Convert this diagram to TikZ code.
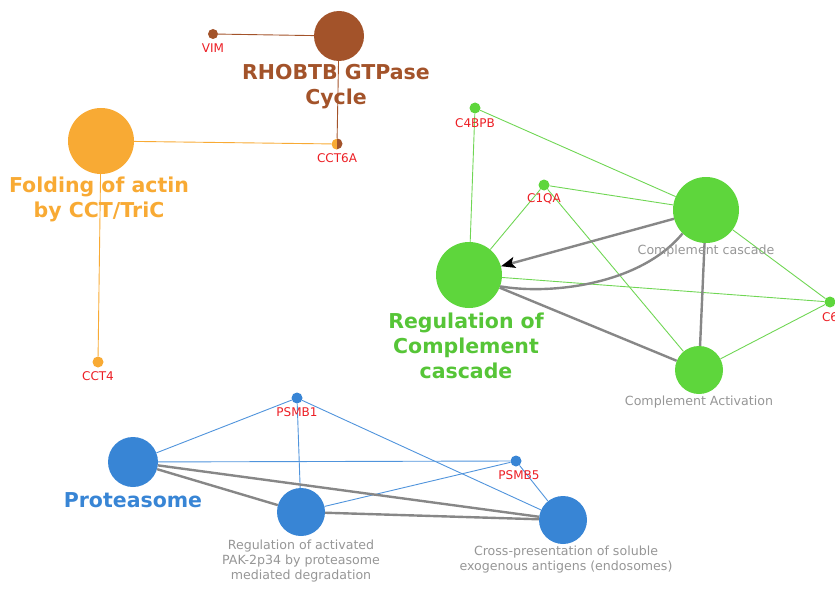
\documentclass[tikz,border=0pt]{standalone}
\usepackage{fontspec}
\setmainfont{DejaVu Sans}
\usetikzlibrary{arrows.meta}
\definecolor{brn}{RGB}{163,83,42}
\definecolor{org}{RGB}{248,170,52}
\definecolor{grn}{RGB}{94,214,60}
\definecolor{grnline}{RGB}{112,214,84}
\definecolor{blu}{RGB}{56,133,213}
\definecolor{bluline}{RGB}{80,148,220}
\definecolor{genered}{RGB}{236,30,36}
\definecolor{edgegray}{RGB}{135,135,135}
\definecolor{labelgray}{RGB}{150,150,150}
\tikzset{
  hub/.style={circle, inner sep=0pt, minimum size=#1},
  gene/.style={circle, inner sep=0pt, minimum size=11pt},
  genelabel/.style={text=genered, font=\fontsize{12}{13}\selectfont},
  pathlabel/.style={text=labelgray, align=center, font=\fontsize{12.6}{15}\selectfont},
  title/.style={align=center, font=\bfseries\fontsize{20.5}{25}\selectfont},
  thin edge/.style={line width=0.9pt},
  heavy edge/.style={draw=edgegray, line width=2.4pt},
}
\begin{document}
\begin{tikzpicture}[x=1pt,y=-1pt]
\useasboundingbox (0,0) rectangle (835,591);

% ---- RHOBTB GTPase Cycle / Folding of actin ----
\node[hub=50pt, fill=brn] (rho) at (339,36) {};
\node[gene, fill=brn, minimum size=10pt] (vim) at (213,34) {};
\node[genelabel] (vimL) at (213,48) {VIM};
\node[title, text=brn] (rhoT) at (336,87) {RHOBTB GTPase\\Cycle};

\node[hub=66pt, fill=org] (fold) at (101,141) {};
\node[title, text=org] (foldT) at (99,199) {Folding of actin\\by CCT/TriC};
\node[gene, fill=org] (cct4) at (98,362) {};
\node[genelabel] (cct4L) at (98,376) {CCT4};

\node[gene] (cct6a) at (337,144) {};
\fill[org] (cct6a.south) arc[start angle=-90, end angle=-270, radius=5.5pt] -- cycle;
\fill[brn] (cct6a.north) arc[start angle=90, end angle=-90, radius=5.5pt] -- cycle;
\node[genelabel] (cct6aL) at (337,158) {CCT6A};

\draw[brn, thin edge] (vim) -- (rho);
\draw[brn, thin edge] (rho) -- (cct6a);
\draw[org, thin edge] (fold) -- (cct6a);
\draw[org, thin edge] (fold) -- (cct4);

% ---- Complement cluster ----
\node[hub=66pt, fill=grn] (casc) at (706,210) {};
\node[hub=66pt, fill=grn] (reg) at (469,275) {};
\node[hub=48pt, fill=grn] (act) at (699,370) {};
\node[gene, fill=grn] (c4bpb) at (475,108) {};
\node[gene, fill=grn] (c1qa) at (544,185) {};
\node[gene, fill=grn] (c6) at (830,302) {};

\draw[grnline, thin edge] (c4bpb) -- (reg);
\draw[grnline, thin edge] (c4bpb) -- (casc);
\draw[grnline, thin edge] (c1qa) -- (casc);
\draw[grnline, thin edge] (c1qa) -- (reg);
\draw[grnline, thin edge] (c1qa) -- (act);
\draw[grnline, thin edge] (reg) -- (c6);
\draw[grnline, thin edge] (casc) -- (c6);
\draw[grnline, thin edge] (act) -- (c6);

\draw[heavy edge, -{Stealth[length=14pt,width=11pt,inset=3pt,color=black]}] (casc) -- (reg);
\draw[heavy edge] (casc.225) .. controls (640,285) and (550,295) .. (reg.-20);
\draw[heavy edge] (casc) -- (act);
\draw[heavy edge] (reg) -- (act);

\node[genelabel] (c4bpbL) at (475,123) {C4BPB};
\node[genelabel] (c1qaL) at (544,199) {C1QA};
\node[genelabel] (c6L) at (830,317) {C6};
\node[pathlabel] (cascL) at (706,251) {Complement cascade};
\node[pathlabel] (actL) at (699,402) {Complement Activation};
\node[title, text=grn!92!black] (regT) at (466,346) {Regulation of\\Complement\\cascade};

% ---- Proteasome cluster ----
\node[hub=50pt, fill=blu] (prot) at (133,462) {};
\node[hub=48pt, fill=blu] (pak) at (301,512) {};
\node[hub=48pt, fill=blu] (cross) at (563,520) {};
\node[gene, fill=blu] (psmb1) at (297,398) {};
\node[gene, fill=blu] (psmb5) at (516,461) {};

\draw[bluline, thin edge] (prot) -- (psmb1);
\draw[bluline, thin edge] (psmb1) -- (pak);
\draw[bluline, thin edge] (psmb1) -- (cross);
\draw[bluline, thin edge] (prot) -- (psmb5);
\draw[bluline, thin edge] (pak) -- (psmb5);
\draw[bluline, thin edge] (psmb5) -- (cross);

\draw[heavy edge] (prot) -- (pak);
\draw[heavy edge] (prot) -- (cross);
\draw[heavy edge] (pak) -- (cross);

\node[genelabel] (psmb1L) at (297,412) {PSMB1};
\node[genelabel] (psmb5L) at (519,475) {PSMB5};
\node[title, text=blu] (protT) at (133,500) {Proteasome};
\node[pathlabel] (pakL) at (301,561) {Regulation of activated\\PAK-2p34 by proteasome\\mediated degradation};
\node[pathlabel] (crossL) at (566,560) {Cross-presentation of soluble\\exogenous antigens (endosomes)};
\end{tikzpicture}
\end{document}
